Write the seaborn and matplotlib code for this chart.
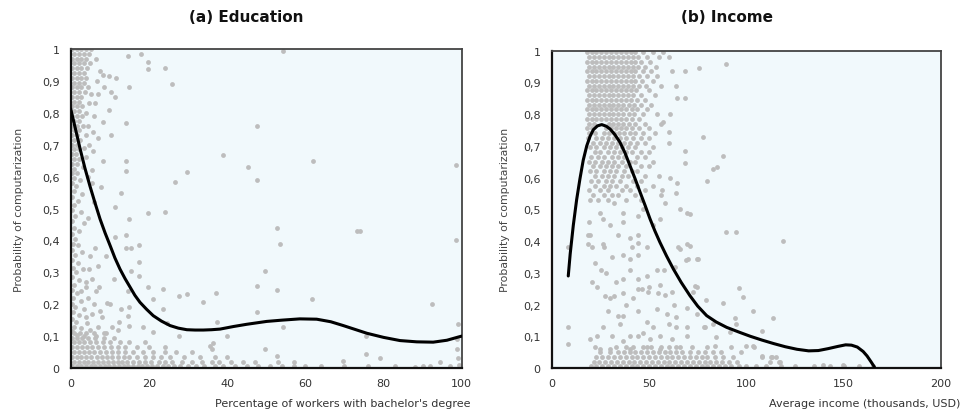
import matplotlib
matplotlib.use("Agg")
import matplotlib.pyplot as plt
from matplotlib.ticker import FuncFormatter, FixedLocator
import seaborn as sns
import pandas as pd

# ---------------- Panel (a) Education ----------------
# dense column close to x = 0 (y, [x ...])
edu_column_rows = [
    (1.000, [0.3, 1.5, 2.7, 3.9, 5.2]), (0.985, [0.9, 2.1, 3.3, 4.6]),
    (0.970, [0.3, 1.5, 2.7, 3.9]), (0.955, [0.9, 2.1, 3.3, 5.0]),
    (0.940, [0.3, 1.5, 2.7, 4.2]), (0.925, [0.9, 2.1, 3.3]),
    (0.910, [0.3, 1.5, 2.7, 4.0]), (0.895, [0.9, 2.1, 3.3]),
    (0.880, [0.3, 1.5, 2.7]), (0.865, [0.9, 2.1, 3.6]),
    (0.850, [0.3, 1.5, 2.7]), (0.835, [0.9, 2.1]),
    (0.820, [0.3, 1.5, 3.0]), (0.805, [0.9, 2.2]),
    (0.790, [0.3, 1.5, 2.8]), (0.775, [0.9, 2.0]),
    (0.760, [0.3, 1.5, 3.1]), (0.745, [0.9, 2.1]),
    (0.730, [0.3, 1.5]), (0.715, [0.9, 2.4]),
    (0.700, [0.3, 1.5]), (0.685, [0.9, 2.0]),
    (0.670, [0.3, 1.4]), (0.655, [0.9, 2.2]),
    (0.640, [0.3, 1.5]), (0.625, [0.9]), (0.610, [0.3, 1.6]),
]
# dense band close to y = 0 (y, [x ...])
edu_bottom_rows = [
    (0.005, [0.3, 1.5, 2.7, 3.9, 5.1, 6.3, 7.5, 8.7, 9.9, 11.1, 12.3, 13.5, 14.7, 15.9,
             17.1, 18.3, 19.5, 20.7, 22, 23.5, 25, 26.5, 28, 30, 32, 34, 37, 39, 42, 45,
             48, 51, 54, 57, 60, 64, 70, 76, 83, 90]),
    (0.020, [0.9, 2.1, 3.3, 4.5, 5.7, 7, 8.2, 9.5, 10.7, 12, 13.2, 14.5, 16, 17.5, 19,
             20.5, 22.5, 24, 26, 28.5, 31, 33.5, 36, 38, 41, 44, 47, 53, 57]),
    (0.035, [0.3, 1.5, 2.7, 4, 5.3, 6.6, 8, 9.2, 10.5, 12, 13.5, 15, 17, 19, 21, 23,
             25.5, 29, 33, 37, 40]),
    (0.050, [0.9, 2.1, 3.4, 4.7, 6, 7.4, 9, 10.5, 12, 14, 16, 18.5, 21, 24, 27, 31]),
    (0.065, [0.3, 1.5, 2.8, 4.2, 5.5, 7, 8.5, 10.2, 12, 14, 17, 20, 24]),
    (0.080, [0.9, 2.2, 3.5, 5, 6.5, 8.3, 10, 12.5, 15, 19]),
    (0.095, [0.3, 1.6, 3, 4.5, 6.2, 8.5, 11]),
    (0.110, [0.9, 2.4, 4, 6, 9]),
]
# column near x = 0, middle part (x, y)
edu_column_mid = [
    (0.9, 0.595), (2.4, 0.59), (0.3, 0.58), (1.4, 0.57), (0.8, 0.555), (3.0, 0.545),
    (0.3, 0.535), (1.8, 0.525), (0.9, 0.51), (0.3, 0.495), (2.6, 0.49), (1.2, 0.475),
    (0.3, 0.46), (3.5, 0.455), (0.9, 0.44), (2.0, 0.43), (0.3, 0.42), (1.2, 0.405),
    (0.5, 0.39), (1.8, 0.385), (0.3, 0.37), (2.8, 0.365), (1.0, 0.355), (0.3, 0.34),
    (1.9, 0.33), (0.6, 0.315), (3.2, 0.31), (1.3, 0.30), (0.3, 0.285), (2.2, 0.275),
    (0.8, 0.26), (4.0, 0.255), (0.3, 0.245), (1.6, 0.235), (0.5, 0.22), (2.6, 0.21),
    (0.3, 0.20), (1.2, 0.19), (3.4, 0.185), (0.6, 0.175), (2.0, 0.165), (0.3, 0.155),
    (1.4, 0.145), (4.2, 0.14), (0.8, 0.13), (2.5, 0.125), (0.3, 0.115), (1.6, 0.105),
    (3.5, 0.10), (5.5, 0.58), (6.0, 0.52), (4.5, 0.47), (6.3, 0.376), (6.9, 0.32),
    (5.0, 0.35), (7.3, 0.254), (5.5, 0.28), (9.2, 0.203), (8.0, 0.159), (6.0, 0.20),
    (5.0, 0.12), (7.0, 0.13), (4.4, 0.88), (4.8, 0.83), (3.9, 0.80), (4.5, 0.76),
    (3.8, 0.73), (4.6, 0.70), (3.3, 0.69), (4.0, 0.66), (3.2, 0.63), (4.4, 0.60),
    (5.3, 0.86), (5.6, 0.74), (3.8, 0.16), (5.5, 0.17), (4.5, 0.22), (6.5, 0.24),
    (3.8, 0.27), (4.8, 0.31), (2.5, 0.24), (7.5, 0.18), (8.5, 0.11), (10.5, 0.13),
    (12.0, 0.12), (6.5, 0.10),
]
# scattered occupations (x, y)
edu_scatter = [
    (6.5, 0.97), (7.5, 0.93), (8.2, 0.92), (9.9, 0.915), (11.6, 0.91), (6.8, 0.90),
    (8.5, 0.88), (7.0, 0.86), (10.3, 0.865), (11.2, 0.85), (6.2, 0.83), (9.9, 0.81),
    (8.2, 0.77), (6.0, 0.79), (14.1, 0.768), (10.3, 0.73), (7.0, 0.72), (8.2, 0.65),
    (14.1, 0.648), (14.1, 0.617), (5.8, 0.68), (14.6, 0.979), (18.0, 0.984),
    (19.7, 0.958), (19.7, 0.937), (24.1, 0.94), (25.9, 0.89), (15.0, 0.88), (5.5, 0.62),
    (29.7, 0.615), (26.7, 0.584), (12.9, 0.549), (7.7, 0.567), (11.2, 0.504),
    (19.7, 0.485), (24.1, 0.49), (15.0, 0.467), (14.1, 0.417), (14.1, 0.376),
    (15.3, 0.376), (17.5, 0.386), (11.2, 0.41), (17.4, 0.332), (15.4, 0.305),
    (17.5, 0.289), (19.7, 0.254), (23.5, 0.248), (27.8, 0.225), (29.7, 0.231),
    (14.6, 0.242), (21.0, 0.216), (12.9, 0.185), (15.0, 0.19), (23.5, 0.185),
    (12.4, 0.145), (14.6, 0.162), (15.0, 0.133), (21.1, 0.114), (27.8, 0.101),
    (33.8, 0.208), (10.0, 0.20), (18.5, 0.13), (24.5, 0.14), (11.0, 0.28), (9.0, 0.35),
    (54.4, 0.993), (47.6, 0.76), (38.9, 0.669), (61.9, 0.65), (45.4, 0.629),
    (47.6, 0.589), (98.5, 0.637), (52.8, 0.439), (53.4, 0.389), (73.1, 0.428),
    (74.0, 0.428), (98.5, 0.401), (49.8, 0.303), (47.6, 0.258), (52.8, 0.245),
    (37.2, 0.234), (61.6, 0.216), (92.5, 0.20), (47.6, 0.175), (37.5, 0.145),
    (54.2, 0.13), (99.1, 0.138), (39.9, 0.101), (75.5, 0.101), (35.6, 0.07),
    (36.4, 0.078), (36.1, 0.06), (49.8, 0.06), (52.8, 0.039), (75.5, 0.044),
    (79.1, 0.031), (69.7, 0.021), (94.4, 0.02), (98.7, 0.09), (98.9, 0.06),
    (99.0, 0.03), (99.2, 0.01), (97.0, 0.005), (92.0, 0.005), (88.0, 0.003),
]
# fitted curve (a)
edu_curve_x = [0, 1.2, 2.4, 3.6, 4.9, 6.2, 7.5, 8.8, 10.1, 11.3, 12.6, 13.9, 15.2, 16.4,
               17.7, 19.4, 21.1, 23.2, 25.4, 27.5, 29.7, 31.8, 33.9, 36, 38.2, 41.6, 45,
               48.4, 50.1, 54, 58.6, 62.9, 66.5, 69.7, 72.7, 75.7, 80, 84.2, 88.5, 92.7,
               96.2, 99.1, 100]
edu_curve_y = [0.812, 0.75, 0.687, 0.628, 0.571, 0.518, 0.467, 0.423, 0.383, 0.345, 0.31,
               0.28, 0.253, 0.228, 0.206, 0.184, 0.164, 0.147, 0.133, 0.125, 0.12, 0.119,
               0.119, 0.12, 0.122, 0.13, 0.137, 0.143, 0.146, 0.15, 0.154, 0.153, 0.145,
               0.133, 0.121, 0.109, 0.096, 0.086, 0.082, 0.081, 0.087, 0.097, 0.10]

# ---------------- Panel (b) Income ----------------
inc_top_rows = [
    (0.995, [18, 20.5, 23, 25.5, 28, 30.5, 33, 35.5, 38, 40.5, 43, 47, 52, 57]),
    (0.980, [19.2, 21.7, 24.2, 26.7, 29.2, 31.7, 34.2, 36.7, 39.2, 41.7, 44.5, 49, 55, 60]),
    (0.965, [18, 20.5, 23, 25.5, 28, 30.5, 33, 35.5, 38, 40.5, 43, 46, 50.5]),
    (0.950, [19.2, 21.7, 24.2, 26.7, 29.2, 31.7, 34.2, 36.7, 39.2, 41.7, 44.5, 48, 53.5]),
    (0.935, [18, 20.5, 23, 25.5, 28, 30.5, 33, 35.5, 38, 40.5, 43, 47, 51]),
    (0.920, [19.2, 21.7, 24.2, 26.7, 29.2, 31.7, 34.2, 36.7, 39.2, 41.7, 45, 49, 54]),
    (0.905, [18, 20.5, 23, 25.5, 28, 30.5, 33, 35.5, 38, 40.5, 43, 46.5, 52]),
    (0.890, [19.2, 21.7, 24.2, 26.7, 29.2, 31.7, 34.2, 36.7, 39.2, 41.7, 45, 48.5, 56]),
    (0.875, [18, 20.5, 23, 25.5, 28, 30.5, 33, 35.5, 38, 40.5, 43.5, 50]),
    (0.860, [19.2, 21.7, 24.2, 26.7, 29.2, 31.7, 34.2, 36.7, 39.2, 42, 46, 53]),
    (0.845, [18, 20.5, 23, 25.5, 28, 30.5, 33, 35.5, 38, 40.5, 44, 48]),
    (0.830, [19.2, 21.7, 24.2, 26.7, 29.2, 31.7, 34.2, 36.7, 39.5, 42.5, 46, 51]),
    (0.815, [18, 20.5, 23, 25.5, 28, 30.5, 33, 35.5, 38, 41, 44, 49]),
    (0.800, [19.2, 21.7, 24.2, 26.7, 29.2, 31.7, 34.2, 36.7, 39.5, 42.5, 47, 54]),
    (0.785, [18, 20.5, 23, 25.5, 28, 30.5, 33, 35.5, 38, 41, 45]),
    (0.770, [19.2, 21.7, 29.2, 31.7, 34.2, 36.7, 39.5, 43, 48, 56]),
    (0.755, [18, 20.5, 28, 30.5, 33, 35.5, 38, 41.5, 45, 50]),
    (0.740, [19.2, 22, 27, 29.5, 32, 34.5, 37, 40, 43, 47, 53]),
    (0.725, [18.5, 23, 26, 29, 32, 35, 38, 42, 46, 50]),
    (0.710, [21, 25, 28, 31, 34, 37, 40, 44, 48]),
    (0.695, [19.5, 23, 27, 30, 33, 36, 39, 43, 52]),
    (0.680, [22, 25, 29, 32, 35, 38, 41, 46, 50]),
    (0.665, [20, 24, 27, 31, 34, 37, 44, 48]),
    (0.650, [19, 22, 26, 29, 32, 36, 40, 43, 52]),
    (0.635, [21, 25, 28, 31, 34, 38, 46, 50]),
    (0.620, [19.5, 23, 27, 30, 33, 37, 41, 44]),
    (0.605, [22, 26, 29, 32, 36, 39, 48, 55]),
    (0.590, [20, 24, 28, 31, 35, 42, 46]),
    (0.575, [22, 27, 30, 33, 38, 44, 52]),
    (0.560, [19, 25, 29, 36, 40, 48]),
    (0.545, [21, 27, 31, 34, 43, 56]),
    (0.530, [19.5, 24, 29, 38, 46]),
]
inc_bottom_rows = [
    (0.005, [20, 23, 26, 29, 32, 35, 38, 41, 44, 47, 50, 53, 56, 59, 62, 65, 68, 71, 74,
             77, 80, 83, 86, 89, 92, 96, 100, 105, 110, 118, 125, 135, 143, 150, 158, 165]),
    (0.020, [21.5, 24.5, 27.5, 30.5, 33.5, 36.5, 39.5, 42.5, 45.5, 48.5, 51.5, 54.5, 57.5,
             60.5, 63.5, 66.5, 69.5, 72.5, 75.5, 78.5, 81.5, 84.5, 87.5, 91, 95, 112, 117]),
    (0.035, [23, 26, 29, 32, 35, 38, 41, 44, 47, 50, 53, 56, 59, 62, 65, 68, 71, 74, 77,
             80, 84, 88, 93, 108, 113]),
    (0.050, [25, 30, 34, 37, 40, 43, 46, 49, 52, 55, 58, 61, 64, 67, 71, 75, 79, 83, 87, 97]),
    (0.065, [22, 33, 38, 42, 47, 51, 56, 60, 66, 72, 80, 92, 104]),
]
inc_scatter = [
    (24.8, 0.49), (26.5, 0.47), (36.8, 0.49), (36.8, 0.46), (44.5, 0.48), (55.6, 0.47),
    (69.4, 0.49), (19.7, 0.42), (20.5, 0.38), (26.5, 0.39), (34.2, 0.42), (40.2, 0.41),
    (44.5, 0.42), (41.0, 0.38), (44.5, 0.395), (48.8, 0.38), (36.8, 0.355), (40.2, 0.345),
    (44.5, 0.355), (65.0, 0.38), (69.4, 0.39), (70.0, 0.345), (74.5, 0.345), (25.5, 0.31),
    (28.0, 0.30), (36.8, 0.28), (40.2, 0.31), (44.5, 0.28), (48.8, 0.29), (53.9, 0.31),
    (57.5, 0.31), (23.1, 0.254), (44.5, 0.25), (46.5, 0.25), (50.0, 0.254), (55.6, 0.26),
    (61.6, 0.24), (74.5, 0.254), (27.5, 0.228), (32.0, 0.228), (36.8, 0.235), (49.5, 0.24),
    (54.5, 0.235), (63.0, 0.20), (69.4, 0.19), (29.0, 0.181), (34.2, 0.165), (44.5, 0.181),
    (53.9, 0.185), (59.0, 0.17), (64.0, 0.16), (74.5, 0.17), (26.5, 0.128), (36.8, 0.165),
    (48.8, 0.144), (52.0, 0.128), (64.0, 0.128), (69.4, 0.128), (78.8, 0.128), (8.5, 0.128),
    (8.5, 0.075), (8.6, 0.38), (19.7, 0.09), (23.1, 0.10), (31.0, 0.10), (36.5, 0.085),
    (40.2, 0.10), (44.5, 0.10), (50.5, 0.09), (55.6, 0.10), (62.0, 0.09), (69.4, 0.10),
    (24.8, 0.06), (30.0, 0.06), (40.2, 0.06), (48.8, 0.065), (55.6, 0.06), (64.0, 0.065),
    (56.5, 0.56), (61.0, 0.60), (64.0, 0.55), (66.0, 0.50), (58.0, 0.52), (52.0, 0.45),
    (47.0, 0.50), (32.0, 0.52), (30.0, 0.45), (22.0, 0.33), (27.0, 0.38), (31.0, 0.35),
    (33.0, 0.27), (38.0, 0.20), (42.0, 0.22), (58.0, 0.23), (60.0, 0.14), (47.0, 0.11),
    (35.0, 0.14), (20.5, 0.27), (30.0, 0.22), (18.5, 0.42), (18.5, 0.39), (19.0, 0.46),
    (89.6, 0.958), (75.9, 0.945), (61.6, 0.937), (68.5, 0.937), (63.9, 0.888), (64.2, 0.851),
    (68.5, 0.851), (60.8, 0.80), (57.0, 0.774), (77.9, 0.729), (60.4, 0.745), (68.5, 0.685),
    (68.5, 0.645), (87.9, 0.669), (85.1, 0.634), (82.7, 0.626), (80.0, 0.59), (64.6, 0.583),
    (60.4, 0.708), (71.0, 0.486), (89.6, 0.43), (94.7, 0.43), (119.0, 0.40), (71.0, 0.386),
    (65.9, 0.376), (75.3, 0.344), (69.0, 0.339), (63.4, 0.318), (73.6, 0.258), (72.8, 0.239),
    (79.3, 0.214), (87.8, 0.204), (96.4, 0.252), (98.4, 0.225), (103.3, 0.181), (94.2, 0.158),
    (113.5, 0.156), (78.2, 0.128), (83.0, 0.139), (94.7, 0.139), (107.9, 0.116), (91.6, 0.113),
    (84.4, 0.099), (83.9, 0.07), (99.8, 0.07), (103.6, 0.07), (107.9, 0.039), (112.5, 0.034),
    (115.2, 0.034), (117.3, 0.018), (139.5, 0.008), (149.8, 0.008),
]
# fitted curve (b)
inc_curve_x = [8.5, 9.5, 11.1, 12.8, 14.5, 16.2, 18, 19.7, 21.4, 23.5, 25.7, 28, 30, 32.5,
               35.1, 37.7, 40.2, 42.8, 45.4, 48, 50.5, 53, 55.6, 59, 62.5, 66.5, 71, 75,
               79.6, 84.5, 89.9, 96.7, 102, 108, 114, 120, 126, 132, 137, 142, 147, 151,
               154, 157, 160, 162, 164, 165.8]
inc_curve_y = [0.29, 0.36, 0.45, 0.53, 0.596, 0.655, 0.70, 0.73, 0.751, 0.763, 0.767,
               0.762, 0.753, 0.735, 0.711, 0.677, 0.638, 0.597, 0.554, 0.512, 0.47, 0.432,
               0.396, 0.353, 0.312, 0.27, 0.228, 0.195, 0.165, 0.145, 0.128, 0.112, 0.10,
               0.088, 0.077, 0.067, 0.059, 0.054, 0.055, 0.061, 0.068, 0.073, 0.072, 0.066,
               0.052, 0.038, 0.02, 0.003]

titles = ["(a) Education", "(b) Income"]
xlabels = ["Percentage of workers with bachelor's degree", "Average income (thousands, USD)"]
ylabel = "Probability of computarization"
y_ticks = [0, 0.1, 0.2, 0.3, 0.4, 0.5, 0.6, 0.7, 0.8, 0.9, 1.0]
edu_xticks = [0, 20, 40, 60, 80, 100]
inc_xticks = [0, 50, 100, 150, 200]


def build(rows, pairs):
    xs, ys = [], []
    for y, xlist in rows:
        for x in xlist:
            xs.append(x)
            ys.append(y)
    for x, y in pairs:
        xs.append(x)
        ys.append(y)
    return pd.DataFrame({"x": xs, "y": ys})


edu_df = build(edu_column_rows + edu_bottom_rows, edu_column_mid + edu_scatter)
inc_df = build(inc_top_rows + inc_bottom_rows, inc_scatter)
edu_line = pd.DataFrame({"x": edu_curve_x, "y": edu_curve_y})
inc_line = pd.DataFrame({"x": inc_curve_x, "y": inc_curve_y})

sns.set_style("white")
plt.rcParams["font.family"] = ["DejaVu Sans"]

fig = plt.figure(figsize=(9.61, 4.14), dpi=100)
ax1 = fig.add_axes([0.0736, 0.1087, 0.4069, 0.7705])
ax2 = fig.add_axes([0.5741, 0.1087, 0.4051, 0.7665])

bg = "#F1F9FC"
pt_color = "#BDBDBD"


def yfmt(v, _):
    if abs(v) < 1e-9:
        return "0"
    if abs(v - 1) < 1e-9:
        return "1"
    return f"{v:.1f}".replace(".", ",")


for ax, df, line, xmax, xt, xl, lx, ly in [
    (ax1, edu_df, edu_line, 100, edu_xticks, xlabels[0], 1.022, -0.095),
    (ax2, inc_df, inc_line, 200, inc_xticks, xlabels[1], 1.05, -0.095),
]:
    ax.set_facecolor(bg)
    sns.scatterplot(data=df, x="x", y="y", ax=ax, color=pt_color, s=12,
                    linewidth=0, alpha=1, zorder=2)
    sns.lineplot(data=line, x="x", y="y", ax=ax, color="black", linewidth=2.2,
                 estimator=None, sort=False, zorder=3)
    ax.lines[-1].set_solid_joinstyle("round")
    ax.set_xlim(0, xmax)
    ax.set_ylim(0, 1)
    ax.xaxis.set_major_locator(FixedLocator(xt))
    ax.yaxis.set_major_locator(FixedLocator(y_ticks))
    ax.yaxis.set_major_formatter(FuncFormatter(yfmt))
    ax.tick_params(axis="both", direction="in", length=3, width=1, colors="#222222",
                   labelsize=8, labelcolor="#333333")
    ax.tick_params(axis="y", pad=8)
    ax.tick_params(axis="x", pad=7)
    for side in ["left", "bottom"]:
        ax.spines[side].set_color("#111111")
        ax.spines[side].set_linewidth(1.6)
    for side in ["top", "right"]:
        ax.spines[side].set_color("#444444")
        ax.spines[side].set_linewidth(1.3)
    ax.set_xlabel(xl, fontsize=8, color="#333333", ha="right")
    ax.xaxis.set_label_coords(lx, ly)
    ax.set_ylabel(ylabel, fontsize=7.8, color="#444444")

ax1.yaxis.set_label_coords(-0.119, 0.5)
ax2.yaxis.set_label_coords(-0.107, 0.5)

fig.text(246 / 961, 1 - 17 / 414, titles[0], ha="center", va="center",
         fontsize=11, fontweight="bold", color="#111111")
fig.text(727 / 961, 1 - 17 / 414, titles[1], ha="center", va="center",
         fontsize=11, fontweight="bold", color="#111111")

fig.savefig("out.png", dpi=100, facecolor="white")
